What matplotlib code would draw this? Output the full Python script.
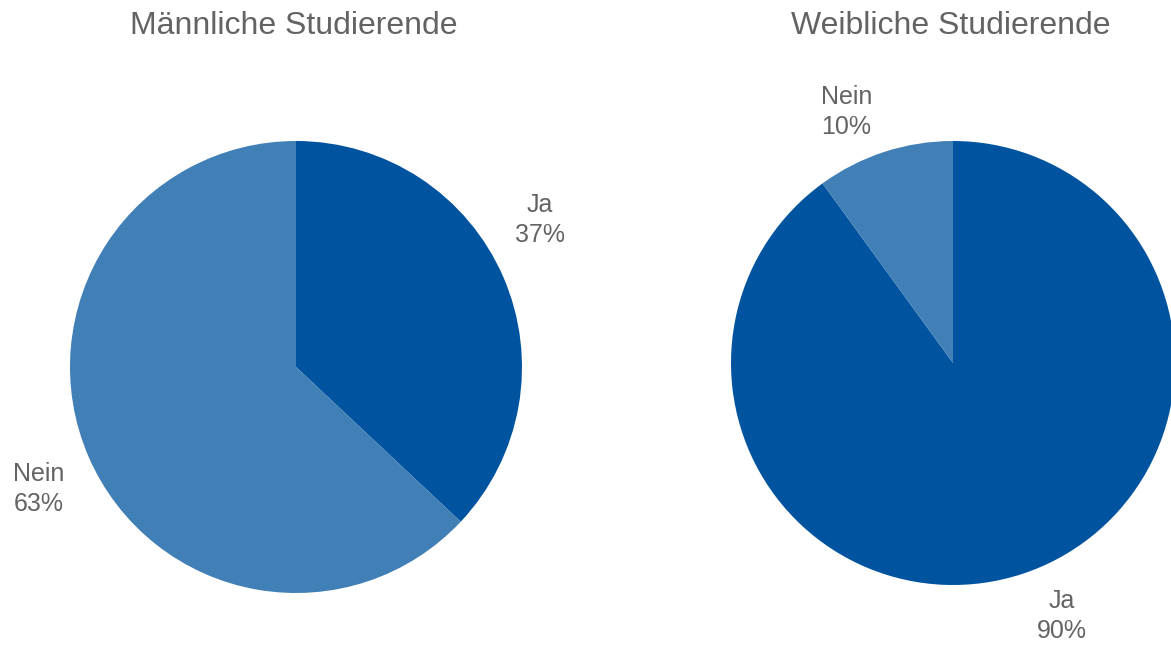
import matplotlib
matplotlib.use('Agg')
import matplotlib.pyplot as plt

plt.rcParams['font.family'] = ['Liberation Sans', 'DejaVu Sans']

# data
titles = ['Männliche Studierende', 'Weibliche Studierende']
categories = ['Ja', 'Nein']
male = [37, 63]
female = [90, 10]

colors = ['#00539F', '#417FB7']
text_col = '#636363'

W, H = 1171, 646
fig = plt.figure(figsize=(W / 100., H / 100.), dpi=100)

# layout: pie centre (px), radius (px), label positions in radius units
layout = [
    dict(cx=296, cy=367, r=226, lab=[(1.08, 0.65), (-1.14, -0.54)]),
    dict(cx=953, cy=363, r=222, lab=[(0.49, -1.14), (-0.48, 1.13)]),
]
lim = 1.3

for title, vals, lay in zip(titles, [male, female], layout):
    r = lay['r']
    ax = fig.add_axes([(lay['cx'] - lim * r) / W, (H - lay['cy'] - lim * r) / H,
                       2 * lim * r / W, 2 * lim * r / H])
    ax.pie(vals, colors=colors, startangle=90, counterclock=False,
           radius=1, wedgeprops=dict(linewidth=0))
    ax.set_xlim(-lim, lim)
    ax.set_ylim(-lim, lim)
    ax.set_aspect('equal')
    ax.axis('off')
    for cat, v, (lx, ly) in zip(categories, vals, lay['lab']):
        ax.text(lx, ly, '%s\n%d%%' % (cat, v), ha='center', va='center',
                fontsize=18, color=text_col, linespacing=1.3)
    fig.text((lay['cx'] - 2) / W, 1 - 26. / H, title, ha='center', va='center',
             fontsize=23, color=text_col)

fig.savefig('out.png', dpi=100)
